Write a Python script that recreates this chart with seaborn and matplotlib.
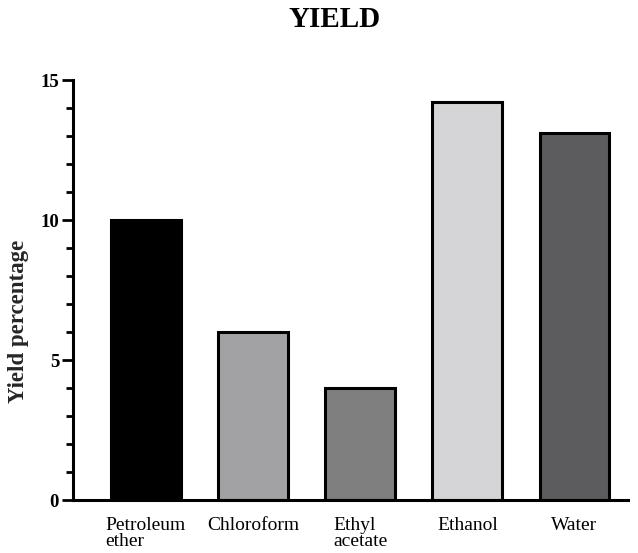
import matplotlib
matplotlib.use("Agg")
import matplotlib.pyplot as plt
import seaborn as sns
import pandas as pd
from matplotlib.ticker import MultipleLocator

# data
solvents = ["Petroleum\nether", "Chloroform", "Ethyl\nacetate", "Ethanol", "Water"]
yield_pct = [10.0, 6.0, 4.0, 14.2, 13.1]
bar_colors = ["#000000", "#a2a2a4", "#7f7f80", "#d5d5d8", "#5c5c5e"]

df = pd.DataFrame({"solvent": solvents, "yield": yield_pct})

sns.set_style("ticks")
serif = ["Liberation Serif", "DejaVu Serif"]
plt.rcParams["font.family"] = serif
plt.rcParams["text.color"] = "black"
plt.rcParams["xtick.color"] = "black"
plt.rcParams["ytick.color"] = "black"
plt.rcParams["axes.edgecolor"] = "black"

fig = plt.figure(figsize=(6.38, 5.53), dpi=100)
ax = fig.add_axes([0.1144, 0.0958, 0.87, 0.7595])

sns.barplot(data=df, x="solvent", y="yield", hue="solvent", palette=bar_colors,
            legend=False, width=0.65, edgecolor="black", linewidth=2.2, ax=ax)

ax.set_ylim(0, 15)
ax.set_xlim(-0.68, 4.5)
ax.yaxis.set_major_locator(MultipleLocator(5))
ax.yaxis.set_minor_locator(MultipleLocator(1))
ax.tick_params(axis="y", which="major", length=8, width=2, labelsize=13.5, pad=2,
               labelfontfamily="Liberation Serif")
ax.tick_params(axis="y", which="minor", length=5, width=2)
ax.tick_params(axis="x", length=0, labelsize=14, pad=12,
               labelfontfamily="Liberation Serif")
for lbl in ax.get_yticklabels():
    lbl.set_fontweight("bold")
for lbl in ax.get_xticklabels():
    lbl.set_multialignment("left")
    lbl.set_linespacing(0.95)

for side in ["left", "bottom"]:
    ax.spines[side].set_linewidth(2.2)
sns.despine(ax=ax)

ax.set_xlabel("")
ax.set_ylabel("Yield percentage", fontsize=16.5, fontweight="bold", family=serif)
ax.yaxis.set_label_coords(-0.079, 0.426)
fig.text(0.524, 0.964, "YIELD", fontsize=21, fontweight="bold", family=serif,
         ha="center", va="center")

fig.savefig("out.png", dpi=100)
